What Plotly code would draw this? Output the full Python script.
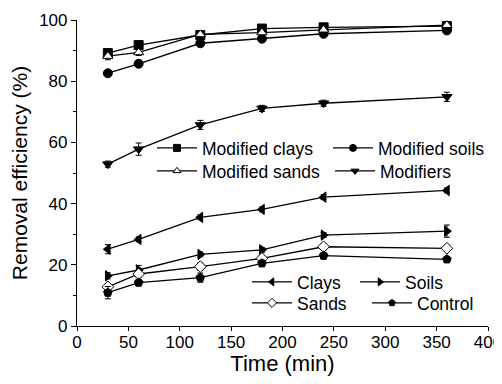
import plotly.graph_objects as go

time_min = [30, 60, 120, 180, 240, 360]

modified_clays = [89.2, 91.8, 95.1, 97.2, 97.6, 98.0]
modified_clays_err = [1.0, 0.8, 0.8, 0.6, 0.6, 0.6]
modified_soils = [82.6, 85.7, 92.4, 93.9, 95.5, 96.6]
modified_soils_err = [0.6, 0.6, 0.6, 0.6, 0.6, 0.6]
modified_sands = [88.2, 89.4, 95.3, 95.9, 96.8, 98.3]
modified_sands_err = [1.2, 1.0, 0.8, 0.8, 0.8, 0.8]
modifiers = [52.9, 57.8, 65.7, 71.1, 72.8, 74.9]
modifiers_err = [1.0, 2.0, 1.5, 1.0, 1.0, 1.5]

clays = [25.1, 28.3, 35.5, 38.1, 42.1, 44.3]
clays_err = [1.5, 0.8, 0.8, 0.8, 0.8, 0.8]
soils = [16.4, 18.3, 23.4, 24.9, 29.7, 31.0]
soils_err = [1.0, 1.5, 0.8, 0.8, 0.8, 2.0]
sands = [12.8, 17.0, 19.4, 22.1, 25.9, 25.4]
sands_err = [1.0, 1.0, 1.2, 1.0, 1.0, 1.0]
control = [10.9, 14.2, 15.8, 20.5, 23.0, 21.8]
control_err = [2.0, 1.0, 1.5, 1.0, 1.0, 0.8]

FONT = "Arial, Liberation Sans, sans-serif"

# The page body has an 8 px margin, so the figure is laid out 8 px smaller
# and shifted so that the plot area lands where the reference has it.
OFF = 8
W, H = 502 - OFF, 384 - OFF
ML, MR, MT, MB = 77 - OFF, 14, 20 - OFF, 58
PW, PH = W - ML - MR, H - MT - MB
PLOT_LEFT, PLOT_BOTTOM = ML + OFF, MT + OFF + PH  # in window pixels
ITEMW = 40
TEXTGAP = ITEMW + 10

# name, values, errors, symbol, fill, legend text start x (px), legend row centre y (px)
series = [
    ("Modified clays", modified_clays, modified_clays_err, "square", "black", 202, 148),
    ("Modified soils", modified_soils, modified_soils_err, "circle", "black", 378, 148),
    ("Modified sands", modified_sands, modified_sands_err, "triangle-up", "white", 202, 171),
    ("Modifiers", modifiers, modifiers_err, "triangle-down", "black", 380, 171),
    ("Clays", clays, clays_err, "triangle-left", "black", 297, 282),
    ("Soils", soils, soils_err, "triangle-right", "black", 405, 282),
    ("Sands", sands, sands_err, "diamond", "white", 297, 303),
    ("Control", control, control_err, "pentagon", "black", 417, 303),
]

fig = go.Figure()
legends = {}
for i, (name, vals, err, sym, fill, tx, ty) in enumerate(series):
    key = "legend" if i == 0 else f"legend{i + 1}"
    fig.add_trace(go.Scatter(
        x=time_min, y=vals, name=name, mode="lines+markers",
        line=dict(color="black", width=1.3),
        marker=dict(symbol=sym, size=9, color=fill, line=dict(color="black", width=1)),
        error_y=dict(type="data", array=err, color="black", thickness=1, width=3),
        showlegend=False,
    ))
    # legend-only entry with a smaller symbol, as in the reference key
    fig.add_trace(go.Scatter(
        x=[None], y=[None], name=name, mode="lines+markers",
        line=dict(color="black", width=1.3),
        marker=dict(symbol=sym, size=7, color=fill, line=dict(color="black", width=1)),
        legend=key, showlegend=True,
    ))
    legends[key] = dict(
        x=(tx - TEXTGAP - PLOT_LEFT) / PW, y=(PLOT_BOTTOM - ty) / PH,
        xanchor="left", yanchor="middle", itemwidth=ITEMW,
        bgcolor="rgba(0,0,0,0)", borderwidth=0,
        font=dict(size=17.5, family=FONT, color="black"),
    )

fig.update_layout(
    width=W, height=H,
    margin=dict(l=ML, r=MR, t=MT, b=MB, autoexpand=False),
    paper_bgcolor="white", plot_bgcolor="white",
    font=dict(family=FONT, color="black", size=17),
    showlegend=True,
    **legends,
)

fig.update_xaxes(
    range=[0, 400], tickvals=[0, 50, 100, 150, 200, 250, 300, 350, 400],
    showline=True, linecolor="black", linewidth=1.2, mirror=False,
    ticks="outside", ticklen=4, tickwidth=1.2, tickcolor="black",
    showgrid=False, zeroline=False, ticklabeloverflow="allow", automargin=False,
    ticklabelstandoff=-4,
    tickfont=dict(size=17, family=FONT),
    title=dict(text="Time (min)", font=dict(size=22, family=FONT), standoff=0),
)
fig.update_yaxes(
    range=[0, 100], tickvals=[0, 20, 40, 60, 80, 100],
    showline=True, linecolor="black", linewidth=1.2, mirror=False,
    ticks="outside", ticklen=5, tickwidth=1.2, tickcolor="black",
    minor=dict(tickvals=[10, 30, 50, 70, 90], ticks="outside", ticklen=3, tickcolor="black", tickwidth=1.2),
    showgrid=False, zeroline=False, automargin=False,
    tickfont=dict(size=17, family=FONT),
    title=dict(text="Removal efficiency (%)", font=dict(size=21, family=FONT), standoff=7),
)

fig.write_html("out.html")
